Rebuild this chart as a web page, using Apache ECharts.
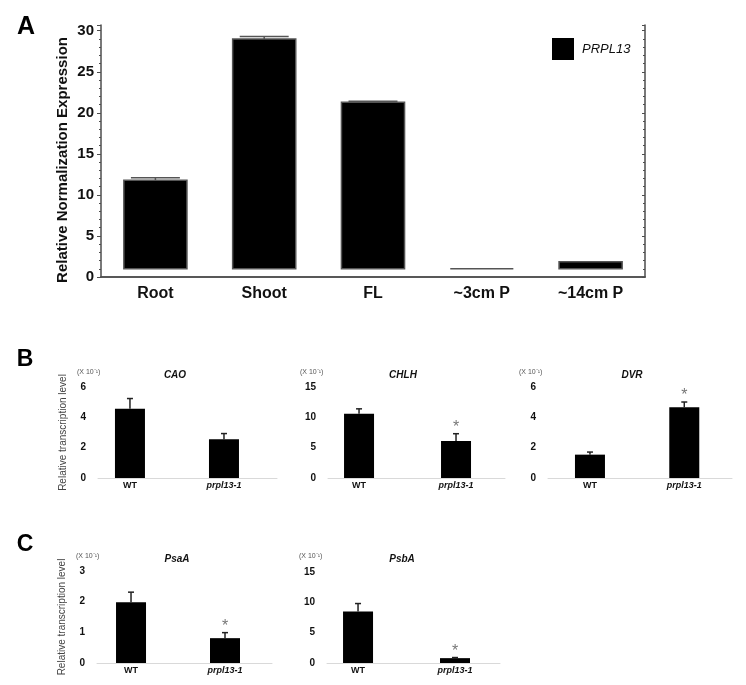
<!DOCTYPE html>
<html>
<head>
<meta charset="utf-8">
<script src="https://cdn.jsdelivr.net/npm/echarts@6/dist/echarts.min.js"></script>
<style>
  html, body { margin: 0; padding: 0; background: #fff; }
  #chart { width: 746px; height: 685px; }
</style>
</head>
<body>
<div id="chart"></div>
<script>
// panel A - qRT-PCR of PRPL13 in tissues (bars start from 1 = relative baseline)
const tissues = ['Root', 'Shoot', 'FL', '~3cm P', '~14cm P'];
const prpl13Expr = [11.8, 29.0, 21.3, 1.0, 1.85];
const prpl13Sd = [0.3, 0.3, 0.1, 0, 0];
const baseLevel = 1;
const yTicksA = [0, 5, 10, 15, 20, 25, 30];

// panels B, C - transcript levels (x 10^-1)
const genotypes = ['WT', 'prpl13-1'];
const caoVal = [4.56, 2.55];
const caoErr = [0.68, 0.38];
const caoSig = [0, 0];
const chlhVal = [10.6, 6.1];
const chlhErr = [0.8, 1.2];
const chlhSig = [0, 1];
const dvrVal = [1.54, 4.66];
const dvrErr = [0.17, 0.35];
const dvrSig = [0, 1];
const psaAVal = [1.98, 0.81];
const psaAErr = [0.33, 0.18];
const psaASig = [0, 1];
const psbAVal = [8.5, 0.8];
const psbAErr = [1.3, 0.1];
const psbASig = [0, 1];

const FONT = 'Liberation Sans, Arial, sans-serif';
const myChart = echarts.init(document.getElementById('chart'));

// small panels: grid box, x range so the bars sit where the figure has them
const panels = [
  { name: 'CAO', val: caoVal, err: caoErr, sig: caoSig, max: 6, interval: 2,
    grid: { left: 98, top: 387, width: 179, height: 91 }, xMin: -0.34, xMax: 1.564,
    title: [175, 375], note: [77, 372], yName: true },
  { name: 'CHLH', val: chlhVal, err: chlhErr, sig: chlhSig, max: 15, interval: 5,
    grid: { left: 328, top: 387, width: 177, height: 91 }, xMin: -0.32, xMax: 1.505,
    title: [403, 375], note: [300, 372] },
  { name: 'DVR', val: dvrVal, err: dvrErr, sig: dvrSig, max: 6, interval: 2,
    grid: { left: 548, top: 387, width: 184, height: 91 }, xMin: -0.445, xMax: 1.506,
    title: [632, 375], note: [519, 372] },
  { name: 'PsaA', val: psaAVal, err: psaAErr, sig: psaASig, max: 3, interval: 1,
    grid: { left: 97, top: 571, width: 175, height: 92 }, xMin: -0.362, xMax: 1.5,
    title: [177, 559], note: [76, 556], yName: true },
  { name: 'PsbA', val: psbAVal, err: psbAErr, sig: psbASig, max: 15, interval: 5,
    grid: { left: 327, top: 572, width: 173, height: 91 }, xMin: -0.32, xMax: 1.464,
    title: [402, 559], note: [299, 556] },
];

function renderBarA(params, api) {
  const x = api.value(0);
  const v = api.value(1);
  const top = api.coord([x, v]);
  const base = api.coord([x, baseLevel]);
  const w = api.size([1, 0])[0] * 0.58;
  return {
    type: 'rect',
    shape: { x: top[0] - w / 2, y: top[1], width: w, height: Math.max(base[1] - top[1], 0) },
    style: { fill: '#000', stroke: '#555', lineWidth: 1.5 },
  };
}

function renderErrA(params, api) {
  const x = api.value(0);
  const v = api.value(1);
  const sd = api.value(2);
  if (!sd) return null;
  const p0 = api.coord([x, v]);
  const p1 = api.coord([x, v + sd]);
  const w = api.size([1, 0])[0] * 0.45;
  return {
    type: 'group',
    children: [
      { type: 'line', shape: { x1: p0[0], y1: p0[1], x2: p1[0], y2: p1[1] }, style: { stroke: '#555', lineWidth: 1.5 } },
      { type: 'line', shape: { x1: p1[0] - w / 2, y1: p1[1], x2: p1[0] + w / 2, y2: p1[1] }, style: { stroke: '#555', lineWidth: 1.5 } },
    ],
  };
}

function renderErrSmall(params, api) {
  const x = api.value(0);
  const v = api.value(1);
  const e = api.value(2);
  const s = api.value(3);
  const p0 = api.coord([x, v]);
  const p1 = api.coord([x, v + e]);
  const children = [
    { type: 'line', shape: { x1: p0[0], y1: p0[1], x2: p1[0], y2: p1[1] }, style: { stroke: '#222', lineWidth: 1.5 } },
    { type: 'line', shape: { x1: p1[0] - 3, y1: p1[1], x2: p1[0] + 3, y2: p1[1] }, style: { stroke: '#222', lineWidth: 1.5 } },
  ];
  if (s) {
    children.push({
      type: 'text', x: p1[0], y: p1[1] - 6,
      style: { text: '*', fill: '#777', font: '16px ' + FONT, align: 'center', verticalAlign: 'middle' },
    });
  }
  return { type: 'group', children: children };
}

const axisColor = '#4d4d4d';

const grids = [{ left: 101, top: 25, width: 544, height: 252 }];
const xAxes = [
  {
    type: 'category', gridIndex: 0, data: tissues, position: 'bottom',
    axisLine: { lineStyle: { color: axisColor, width: 1.5 } },
    axisTick: { alignWithLabel: true, length: 5, lineStyle: { color: axisColor } },
    axisLabel: { color: '#111', fontWeight: 'bold', fontSize: 16, fontFamily: FONT, margin: 9 },
  },
  {
    type: 'category', gridIndex: 0, data: tissues, position: 'top',
    axisLine: { lineStyle: { color: axisColor, width: 1.5 } },
    axisTick: { alignWithLabel: true, inside: true, length: 4, lineStyle: { color: axisColor } },
    axisLabel: { show: false },
  },
];
const yAxes = [
  {
    type: 'value', gridIndex: 0, min: 0, max: 30.7, interval: 5, position: 'left',
    name: 'Relative Normalization Expression', nameLocation: 'middle', nameGap: 31, nameMoveOverlap: false,
    nameTextStyle: { color: '#111', fontWeight: 'bold', fontSize: 15, fontFamily: FONT, padding: [0, 18, 0, 0] },
    axisLine: { show: true, lineStyle: { color: axisColor, width: 1.5 } },
    axisTick: { show: true, length: 4, lineStyle: { color: axisColor } },
    minorTick: { show: true, splitNumber: 5, length: 2, lineStyle: { color: axisColor } },
    axisLabel: {
      color: '#111', fontWeight: 'bold', fontSize: 15, fontFamily: FONT, margin: 7, showMaxLabel: false,
      formatter: v => (yTicksA.indexOf(v) >= 0 ? String(v) : ''),
    },
    splitLine: { show: false },
  },
  {
    type: 'value', gridIndex: 0, min: 0, max: 30.7, interval: 5, position: 'right',
    axisLine: { show: true, lineStyle: { color: axisColor, width: 1.5 } },
    axisTick: { show: true, inside: true, length: 3, lineStyle: { color: axisColor } },
    minorTick: { show: true, splitNumber: 5, length: 2, lineStyle: { color: axisColor } },
    axisLabel: { show: false },
    splitLine: { show: false },
  },
];

const series = [
  {
    name: 'PRPL13', type: 'custom', xAxisIndex: 0, yAxisIndex: 0,
    itemStyle: { color: '#000' },
    renderItem: renderBarA,
    encode: { x: 0, y: 1 },
    data: tissues.map((t, i) => [i, prpl13Expr[i], prpl13Sd[i]]),
    z: 2,
  },
  {
    type: 'custom', xAxisIndex: 0, yAxisIndex: 0,
    renderItem: renderErrA,
    encode: { x: 0, y: 1 },
    data: tissues.map((t, i) => [i, prpl13Expr[i], prpl13Sd[i]]),
    z: 3,
  },
];

const graphics = [
  { type: 'text', x: 26, y: 27, style: { text: 'A', font: 'bold 25px ' + FONT, fill: '#000', align: 'center', verticalAlign: 'middle' } },
  { type: 'text', x: 25, y: 360, style: { text: 'B', font: 'bold 23px ' + FONT, fill: '#000', align: 'center', verticalAlign: 'middle' } },
  { type: 'text', x: 25, y: 545, style: { text: 'C', font: 'bold 23px ' + FONT, fill: '#000', align: 'center', verticalAlign: 'middle' } },
];

panels.forEach((p) => {
  const gi = grids.length;
  const xi = xAxes.length;
  const yi = yAxes.length;
  grids.push(p.grid);
  xAxes.push({
    type: 'value', gridIndex: gi, min: p.xMin, max: p.xMax,
    axisLine: { show: true, onZero: false, lineStyle: { color: '#d9d9d9', width: 1 } },
    axisTick: { show: false },
    splitLine: { show: false },
    axisLabel: {
      customValues: [0, 1], margin: 3, color: '#111', fontFamily: FONT, fontSize: 9, fontWeight: 'bold',
      formatter: v => (v === 0 ? '{n|' + genotypes[0] + '}' : '{i|' + genotypes[1] + '}'),
      rich: {
        n: { fontWeight: 'bold', fontSize: 9, fontFamily: FONT, color: '#111' },
        i: { fontWeight: 'bold', fontStyle: 'italic', fontSize: 9, fontFamily: FONT, color: '#111' },
      },
    },
  });
  yAxes.push({
    type: 'value', gridIndex: gi, min: 0, max: p.max, interval: p.interval,
    name: p.yName ? 'Relative transcription level' : '', nameLocation: 'middle', nameGap: 30,
    nameTextStyle: { color: '#444', fontSize: 10, fontFamily: FONT },
    axisLine: { show: false }, axisTick: { show: false }, splitLine: { show: false },
    axisLabel: { color: '#111', fontWeight: 'bold', fontSize: 10, fontFamily: FONT, margin: 12 },
  });
  series.push({
    type: 'bar', xAxisIndex: xi, yAxisIndex: yi, barWidth: 30,
    itemStyle: { color: '#000' }, data: p.val.map((v, i) => [i, v]), z: 2,
  });
  series.push({
    type: 'custom', xAxisIndex: xi, yAxisIndex: yi,
    renderItem: renderErrSmall, encode: { x: 0, y: 1 },
    data: p.val.map((v, i) => [i, v, p.err[i], p.sig[i]]), z: 3,
  });
  graphics.push({
    type: 'text', x: p.title[0], y: p.title[1],
    style: { text: p.name, font: 'italic bold 10px ' + FONT, fill: '#111', align: 'center', verticalAlign: 'middle' },
  });
  graphics.push({
    type: 'text', x: p.note[0], y: p.note[1],
    style: { text: '(X 10\u207B\u00B9)', font: '7px ' + FONT, fill: '#555', align: 'left', verticalAlign: 'middle' },
  });
});

const option = {
  backgroundColor: '#fff',
  animation: false,
  legend: {
    data: ['PRPL13'], left: 547, top: 33, icon: 'rect', itemWidth: 22, itemHeight: 22,
    textStyle: { fontStyle: 'italic', fontSize: 13, color: '#111', fontFamily: FONT, padding: [0, 0, 0, 3] },
    selectedMode: false,
  },
  grid: grids,
  xAxis: xAxes,
  yAxis: yAxes,
  series: series,
  graphic: graphics,
};

myChart.setOption(option);
</script>
</body>
</html>
